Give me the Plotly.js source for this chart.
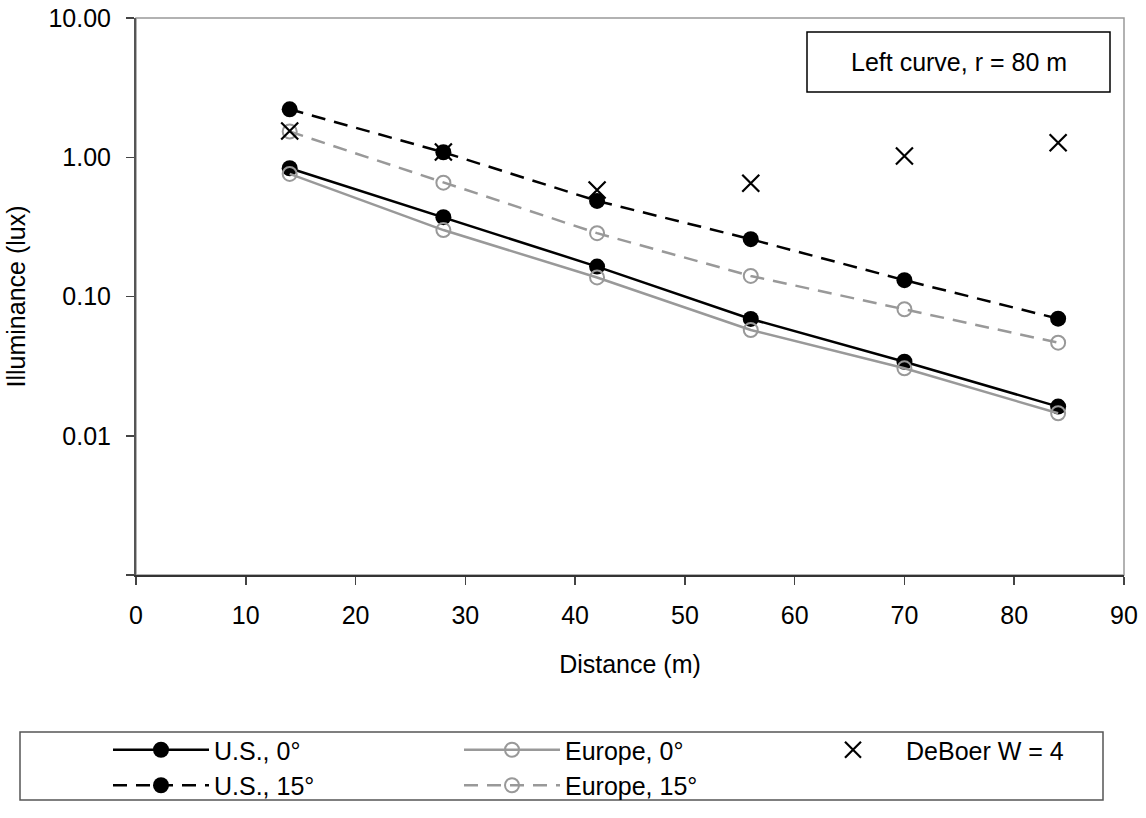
<!DOCTYPE html>
<html>
<head>
<meta charset="utf-8">
<script src="https://cdn.plot.ly/plotly-3.0.1.min.js"></script>
<style>
html,body{margin:0;padding:0;background:#fff;}
#chart{width:1146px;height:818px;}
</style>
</head>
<body>
<div id="chart"></div>
<script>
// Data
const distance = [14, 28, 42, 56, 70, 84];
const us0 = [0.834, 0.371, 0.164, 0.069, 0.034, 0.0162];
const europe0 = [0.759, 0.300, 0.137, 0.0575, 0.0305, 0.0145];
const us15 = [2.21, 1.086, 0.486, 0.258, 0.131, 0.0693];
const europe15 = [1.53, 0.657, 0.285, 0.1405, 0.081, 0.0466];
const deboer = [1.545, 1.09, 0.582, 0.65, 1.02, 1.27];
const yTickVals = [0.001, 0.01, 0.1, 1, 10];
const yTickText = ['', '0.01', '0.10', '1.00', '10.00'];
const xTickVals = [0, 10, 20, 30, 40, 50, 60, 70, 80, 90];

const FONT = 'Liberation Sans, Arial, sans-serif';
const FS = 25;

const traces = [
  {name: 'U.S., 0°', x: distance, y: us0, mode: 'lines+markers', legend: 'legend',
   line: {color: '#000', width: 2.5}, marker: {symbol: 'circle', size: 16, color: '#000'}},
  {name: 'U.S., 15°', x: distance, y: us15, mode: 'lines+markers', legend: 'legend',
   line: {color: '#000', width: 2.5, dash: '14px,9px'}, marker: {symbol: 'circle', size: 16, color: '#000'}},
  {name: 'Europe, 0°', x: distance, y: europe0, mode: 'lines+markers', legend: 'legend2',
   line: {color: '#999', width: 2.5}, marker: {symbol: 'circle-open', size: 14, color: '#999', line: {width: 2, color: '#999'}}},
  {name: 'Europe, 15°', x: distance, y: europe15, mode: 'lines+markers', legend: 'legend2',
   line: {color: '#999', width: 2.5, dash: '14px,9px'}, marker: {symbol: 'circle-open', size: 14, color: '#999', line: {width: 2, color: '#999'}}},
  {name: 'DeBoer W = 4', x: distance, y: deboer, mode: 'markers', legend: 'legend3',
   marker: {symbol: 'x-thin-open', size: 17, color: '#000', line: {width: 2.2, color: '#000'}}}
];

// plot area in pixels: x 136..1124, y 18..575
const L = 136, R = 1124, T = 18, B = 575;
const px = v => (v - L) / (R - L);
const py = v => (B - v) / (B - T);

const legendCommon = {
  orientation: 'v', bgcolor: 'rgba(0,0,0,0)', borderwidth: 0,
  font: {family: FONT, size: FS, color: '#000'}, itemwidth: 96,
  tracegroupgap: 0, xanchor: 'left', yanchor: 'top', itemclick: false
};

const layout = {
  width: 1146, height: 818,
  margin: {l: L, r: 1146 - R, t: T, b: 818 - B, autoexpand: false},
  paper_bgcolor: '#fff', plot_bgcolor: '#fff',
  font: {family: FONT, size: FS, color: '#000'},
  xaxis: {
    range: [0, 90], tickvals: xTickVals, ticks: 'outside', ticklen: 8, tickwidth: 1.5,
    tickcolor: '#444', showline: true, linecolor: '#333', linewidth: 2, showgrid: false,
    zeroline: false, tickfont: {family: FONT, size: FS, color: '#000'},
    ticklabelstandoff: 9, automargin: false,
    title: {text: 'Distance (m)', font: {family: FONT, size: FS, color: '#000'}, standoff: 27}
  },
  yaxis: {
    type: 'log', range: [-3, 1], tickvals: yTickVals, ticktext: yTickText,
    ticks: 'outside', ticklen: 8, tickwidth: 1.5, tickcolor: '#444',
    showline: true, linecolor: '#555', linewidth: 2, showgrid: false, zeroline: false,
    tickfont: {family: FONT, size: FS, color: '#000'},
    ticklabelstandoff: 10, automargin: false,
    title: {text: 'Illuminance (lux)', font: {family: FONT, size: FS, color: '#000'}, standoff: 16}
  },
  showlegend: true,
  legend: Object.assign({}, legendCommon, {x: px(108), y: py(727)}),
  legend2: Object.assign({}, legendCommon, {x: px(459), y: py(727)}),
  legend3: Object.assign({}, legendCommon, {x: px(800), y: py(727)}),
  shapes: [
    {type: 'rect', xref: 'paper', yref: 'paper', x0: 0, x1: 1, y0: 0, y1: 1,
     line: {color: '#999', width: 1.5}, layer: 'below'},
    {type: 'rect', xref: 'paper', yref: 'paper', x0: px(807), x1: px(1110), y0: py(92), y1: py(32),
     line: {color: '#000', width: 1.5}, fillcolor: '#fff'},
    {type: 'rect', xref: 'paper', yref: 'paper', x0: px(20), x1: px(1103), y0: py(800), y1: py(732),
     line: {color: '#555', width: 1.5}}
  ],
  annotations: [
    {text: 'Left curve, r = 80 m', xref: 'paper', yref: 'paper',
     x: (px(807) + px(1110)) / 2, y: (py(92) + py(32)) / 2, xanchor: 'center', yanchor: 'middle',
     showarrow: false, font: {family: FONT, size: FS, color: '#000'}}
  ]
};

Plotly.newPlot('chart', traces, layout, {staticPlot: true});
</script>
</body>
</html>
